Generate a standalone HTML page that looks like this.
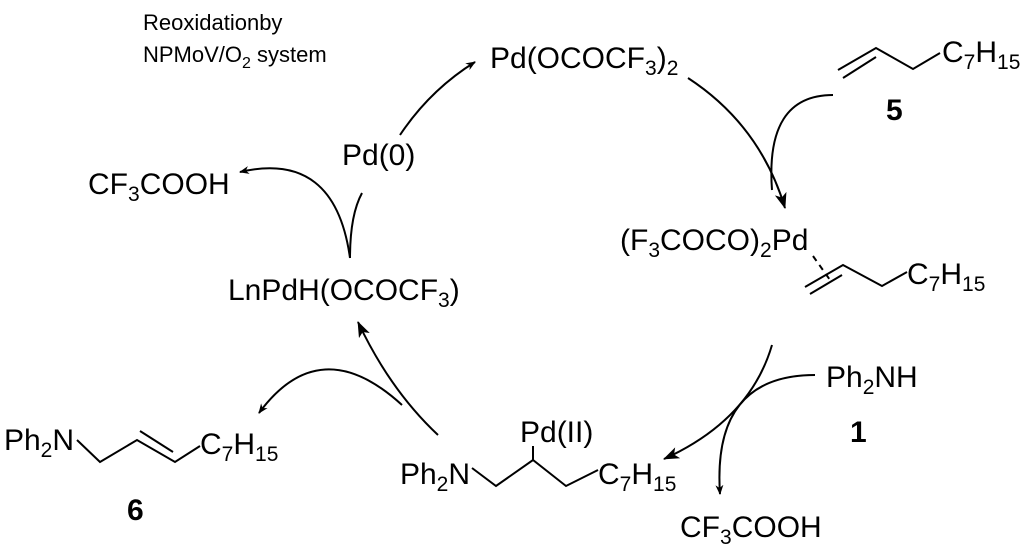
<!DOCTYPE html>
<html><head><meta charset="utf-8"><style>
html,body{margin:0;padding:0;background:#fff;}
svg{display:block;}
text{font-family:"Liberation Sans",Arial,sans-serif;font-size:30px;fill:#000;}
.s{font-size:21px;}
.b{font-weight:bold;}
</style></head><body>
<svg width="1024" height="547" viewBox="0 0 1024 547" xmlns="http://www.w3.org/2000/svg">
<defs>
<marker id="a" markerWidth="10" markerHeight="10" refX="9" refY="5" orient="auto" markerUnits="userSpaceOnUse">
<path d="M0,1 L10,5 L0,9 L3,5 Z" fill="#000"/></marker>
<marker id="A" markerWidth="16" markerHeight="12" refX="15" refY="6" orient="auto" markerUnits="userSpaceOnUse">
<path d="M0,0 L16,6 L0,12 L4,6 Z" fill="#000"/></marker>
</defs>
<g fill="none" stroke="#000" stroke-width="2">
<path d="M688,78 Q760,125 785,208" marker-end="url(#A)"/>
<path d="M833,95 Q765,95 772,190" />
<path d="M838,70 L876,48 L913,69 L940,53"/>
<path d="M843,78 L876,57"/>
<path d="M813,256 L830,280" stroke-dasharray="6,5"/>
<path d="M805,287 L843,265 L882,286 L907,272"/>
<path d="M810,294 L842,275"/>
<path d="M772,345 Q750,420 664,459" marker-end="url(#A)"/>
<path d="M815,375 Q712,375 720,494" marker-end="url(#a)"/>
<path d="M472,468 L496,486 L533,460 L566,486 L598,470"/>
<path d="M533,460 L533,446"/>
<path d="M77,440 L100,462 L137,440 L175,462 L200,446"/>
<path d="M140,431 L173,452"/>
<path d="M438,435 Q390,390 358,322" marker-end="url(#A)"/>
<path d="M402,405 Q320,330 259,413" marker-end="url(#a)"/>
<path d="M350,258 Q350,215 362,193"/>
<path d="M350,258 Q335,150 240,172" marker-end="url(#a)"/>
<path d="M400,135 Q430,90 475,62" marker-end="url(#a)"/>
</g>
<text x="143" y="30" style="font-size:22px">Reoxidationby</text>
<text x="143" y="62" style="font-size:22px">NPMoV/O<tspan style="font-size:16px" dy="6">2</tspan><tspan dy="-6"> system</tspan></text>
<text x="490" y="68">Pd(OCOCF<tspan class="s" dy="7">3</tspan><tspan dy="-7">)</tspan><tspan class="s" dy="7">2</tspan></text>
<text x="942" y="62">C<tspan class="s" dy="7">7</tspan><tspan dy="-7">H</tspan><tspan class="s" dy="7">15</tspan></text>
<text x="886" y="120" class="b">5</text>
<text x="620" y="250">(F<tspan class="s" dy="7">3</tspan><tspan dy="-7">COCO)</tspan><tspan class="s" dy="7">2</tspan><tspan dy="-7">Pd</tspan></text>
<text x="907" y="284">C<tspan class="s" dy="7">7</tspan><tspan dy="-7">H</tspan><tspan class="s" dy="7">15</tspan></text>
<text x="826" y="387">Ph<tspan class="s" dy="7">2</tspan><tspan dy="-7">NH</tspan></text>
<text x="850" y="442" class="b">1</text>
<text x="680" y="537">CF<tspan class="s" dy="7">3</tspan><tspan dy="-7">COOH</tspan></text>
<text x="470" y="484" text-anchor="end">Ph<tspan class="s" dy="7">2</tspan><tspan dy="-7">N</tspan></text>
<text x="520" y="442">Pd(II)</text>
<text x="598" y="484">C<tspan class="s" dy="7">7</tspan><tspan dy="-7">H</tspan><tspan class="s" dy="7">15</tspan></text>
<text x="74" y="450" text-anchor="end">Ph<tspan class="s" dy="7">2</tspan><tspan dy="-7">N</tspan></text>
<text x="200" y="454">C<tspan class="s" dy="7">7</tspan><tspan dy="-7">H</tspan><tspan class="s" dy="7">15</tspan></text>
<text x="127" y="520" class="b">6</text>
<text x="228" y="300">LnPdH(OCOCF<tspan class="s" dy="7">3</tspan><tspan dy="-7">)</tspan></text>
<text x="342" y="165">Pd(0)</text>
<text x="88" y="194">CF<tspan class="s" dy="7">3</tspan><tspan dy="-7">COOH</tspan></text>
</svg>
</body></html>
